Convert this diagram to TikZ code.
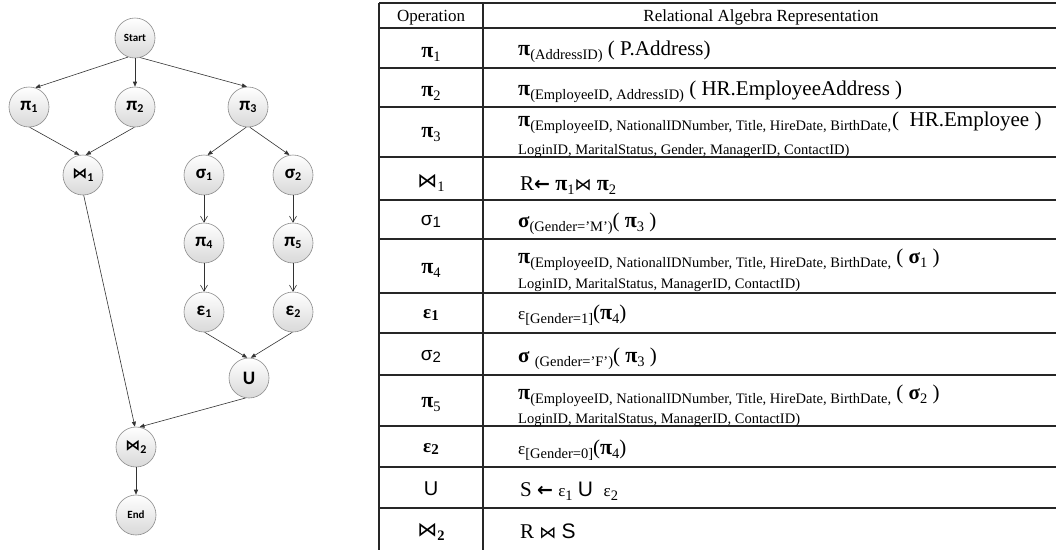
\documentclass[tikz,border=0pt]{standalone}
\usepackage{fontspec}
\setmainfont{Liberation Serif}
\newfontfamily\ndfont{Carlito}
\newfontfamily\djv{DejaVu Sans}
\newfontfamily\arl{Liberation Sans}
\usetikzlibrary{arrows.meta}
\newcommand\fs[1]{\fontsize{#1}{#1}\selectfont}
\newcommand\lo[1]{\raisebox{-4pt}{\fs{14.5}#1}}
\newcommand\gsub[1]{\raisebox{-2.5pt}{\fs{12}#1}}
\newcommand\tbow{{\djv\fs{17}⋈}}
\newcommand\larr{{\djv\bfseries\fs{19}←}}
\newcommand\pii{{\bfseries\fs{22}π}}
\begin{document}
\begin{tikzpicture}[x=1pt,y=-1pt,
  gn/.style={circle, minimum size=40pt, inner sep=0pt, draw=gray!90, line width=0.6pt, top color=white, bottom color=gray!30, font=\ndfont\bfseries\fs{19}},
  ge/.style={draw=gray!40!black, line width=0.6pt, -{Triangle[length=5pt,width=4pt]}},
  gv/.style={draw=gray!40!black, line width=0.6pt, -{Straight Barb[length=6pt,width=7pt]}},
  tl/.style={line width=1.2pt, draw=black!85},
  fx/.style={anchor=base west, inner sep=0pt, font=\fs{21}},
  sm/.style={anchor=base west, inner sep=0pt, font=\fs{14.5}},
  op/.style={anchor=base, inner sep=0pt, font=\fs{21}},
  hd/.style={anchor=base, inner sep=0pt, font=\fs{17}}]
\fill[white] (0,0) rectangle (1056,550);
\useasboundingbox (0,0) rectangle (1056,550);
% ---------- graph ----------
\node[gn, font=\ndfont\bfseries\fs{11}] (start) at (135,38) {Start};
\node[gn] (p1) at (29,107) {π\gsub{1}};
\node[gn] (p2) at (135,107) {π\gsub{2}};
\node[gn] (p3) at (248,107) {π\gsub{3}};
\node[gn] (j1) at (83,175) {{\djv\bfseries\fs{15}⋈}\gsub{1}};
\node[gn] (s1) at (204,175) {σ\gsub{1}};
\node[gn] (s2) at (293,175) {σ\gsub{2}};
\node[gn] (p4) at (204,243) {π\gsub{4}};
\node[gn] (p5) at (293,243) {π\gsub{5}};
\node[gn] (e1) at (204,312) {ε\gsub{1}};
\node[gn] (e2) at (293,312) {ε\gsub{2}};
\node[gn] (u) at (249,378) {U};
\node[gn] (j2) at (136,447) {{\djv\bfseries\fs{15}⋈}\gsub{2}};
\node[gn, font=\ndfont\bfseries\fs{11}] (fin) at (136,515) {End};
\draw[ge] (start.-110) -- (p1.72);
\draw[ge] (start.south) -- (p2.north);
\draw[ge] (start.-75) -- (p3.93);
\draw[ge] (p1.-88) -- (j1.100);
\draw[ge] (p2.-92) -- (j1.82);
\draw[ge] (p3.-95) -- (s1.80);
\draw[ge] (p3.-85) -- (s2.100);
\draw[gv] (s1) -- (p4);
\draw[gv] (s2) -- (p5);
\draw[gv] (p4) -- (e1);
\draw[gv] (p5) -- (e2);
\draw[ge] (e1.-88) -- (u.95);
\draw[ge] (e2.-92) -- (u.85);
\draw[ge] (j1.-88) -- (j2.93);
\draw[ge] (u.-100) -- (j2.80);
\draw[ge] (j2) -- (fin);
% ---------- table ----------
\foreach \yy in {3,28,68,107,157,200,239,293,333,375,426,467,508}
  \draw[tl] (379,\yy) -- (1056,\yy);
\draw[tl] (379,3) -- (379,550);
\draw[tl] (483,3) -- (483,550);
\node[hd] (h1) at (431,21) {Operation};
\node[hd] (h2) at (761,21) {Relational Algebra Representation};
% operation column
\node[op] (o1) at (431,57) {\pii\lo{1}};
\node[op] (o2) at (431,96) {\pii\lo{2}};
\node[op] (o3) at (431,137) {\pii\lo{3}};
\node[op] (o4) at (431,187) {{\djv\fs{20}⋈}\lo{1}};
\node[op] (o5) at (431,225) {{\arl\fs{19}σ\raisebox{-2pt}{\fs{15}1}}};
\node[op] (o6) at (431,273) {\pii\lo{4}};
\node[op] (o7) at (431,318) {{\bfseries\fs{19}ε\raisebox{-2pt}{\fs{15}1}}};
\node[op] (o8) at (431,360) {{\arl\fs{19}σ\raisebox{-2pt}{\fs{15}2}}};
\node[op] (o9) at (431,407) {\pii\lo{5}};
\node[op] (o10) at (431,452) {{\bfseries\fs{19}ε\raisebox{-2pt}{\fs{15}2}}};
\node[op] (o11) at (431,495) {{\arl\fs{20}U}};
\node[op] (o12) at (431,536) {{\djv\fs{20}⋈}{\bfseries\lo{2}}};
% formula column
\node[fx] (f1) at (518,55) {\pii\lo{(AddressID)} ( P.Address)};
\node[fx] (f2) at (518,95) {\pii\lo{(EmployeeID, AddressID)} ( HR.EmployeeAddress )};
\node[fx] (f3a) at (518,126) {\pii\lo{(EmployeeID, NationalIDNumber, Title, HireDate, BirthDate,}};
\node[fx] (f3b) at (892,126) {(\ \ HR.Employee )};
\node[sm] (f3c) at (518,154) {LoginID, MaritalStatus, Gender, ManagerID, ContactID)};
\node[fx] (f4) at (520,190) {R\larr\ \pii\lo{1}\tbow\ \pii\lo{2}};
\node[fx] (f5) at (518,227) {{\bfseries σ}\lo{(Gender=’M’)}( \pii\lo{3} )};
\node[fx] (f6a) at (518,263) {\pii\lo{(EmployeeID, NationalIDNumber, Title, HireDate, BirthDate,} ( {\bfseries σ}\lo{1} )};
\node[sm] (f6b) at (518,288) {LoginID, MaritalStatus, ManagerID, ContactID)};
\node[fx] (f7) at (518,319) {{\fs{17}ε}\lo{[Gender=1]}(\pii\lo{4})};
\node[fx] (f8) at (518,362) {{\bfseries σ} \lo{(Gender=’F’)}( \pii\lo{3} )};
\node[fx] (f9a) at (518,399) {\pii\lo{(EmployeeID, NationalIDNumber, Title, HireDate, BirthDate,} ( {\bfseries σ}\lo{2} )};
\node[sm] (f9b) at (518,423) {LoginID, MaritalStatus, ManagerID, ContactID)};
\node[fx] (f10) at (518,454) {{\fs{17}ε}\lo{[Gender=0]}(\pii\lo{4})};
\node[fx] (f11) at (520,496) {S \larr\ {\fs{17}ε}\lo{1} {\arl U} \ {\fs{17}ε}\lo{2}};
\node[fx] (f12) at (520,538) {R \tbow\ {\arl S}};
\end{tikzpicture}
\end{document}
